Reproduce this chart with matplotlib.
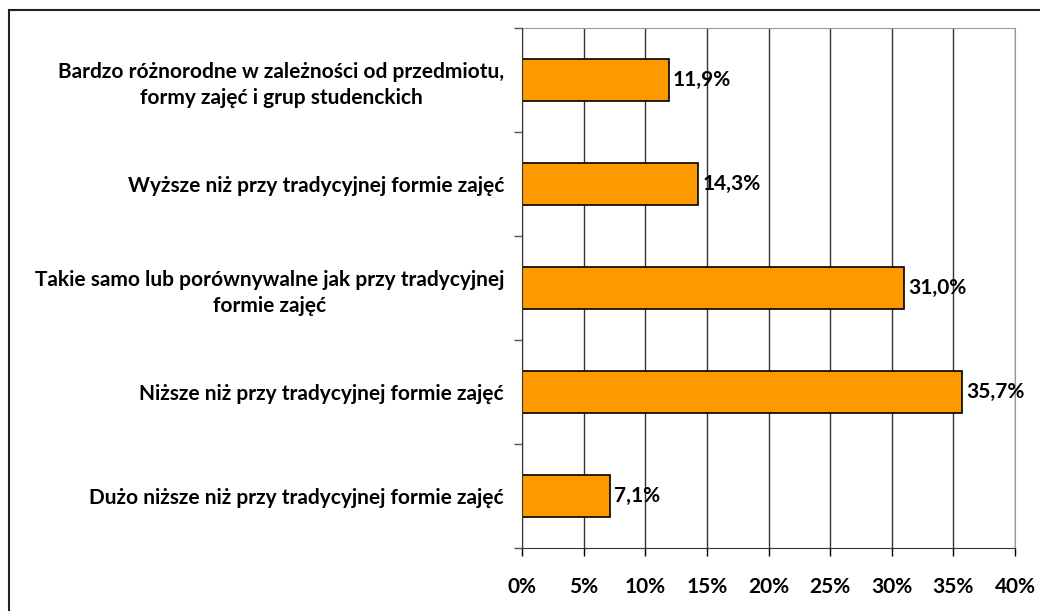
import matplotlib
matplotlib.use("Agg")
import matplotlib.pyplot as plt
from matplotlib.patches import Rectangle
from matplotlib.ticker import MultipleLocator, PercentFormatter, FixedLocator
import numpy as np

categories = [
    "Dużo niższe niż przy tradycyjnej formie zajęć",
    "Niższe niż przy tradycyjnej formie zajęć",
    "Takie samo lub porównywalne jak przy tradycyjnej\nformie zajęć",
    "Wyższe niż przy tradycyjnej formie zajęć",
    "Bardzo różnorodne w zależności od przedmiotu,\nformy zajęć i grup studenckich",
]
values = [7.1, 35.7, 31.0, 14.3, 11.9]
value_labels = ["7,1%", "35,7%", "31,0%", "14,3%", "11,9%"]

plt.rcParams['font.family'] = ['Lato', 'DejaVu Sans']
plt.rcParams['font.weight'] = 'bold'

fig = plt.figure(figsize=(10.4, 6.11), dpi=100)
ax = fig.add_axes([522 / 1040, 1 - 548 / 611, (1015 - 522) / 1040, (548 - 28) / 611])

y = np.arange(len(categories))
ax.barh(y, values, height=0.4, color='#FF9900', edgecolor='black', linewidth=1.2, zorder=3)

for yi, v, lab in zip(y, values, value_labels):
    ax.text(v + 0.35, yi, lab, va='center', ha='left', fontsize=15,
            fontweight='bold', zorder=4)

ax.set_xlim(0, 40)
ax.set_ylim(-0.5, len(categories) - 0.5)
ax.xaxis.set_major_locator(MultipleLocator(5))
ax.xaxis.set_major_formatter(PercentFormatter(decimals=0))
ax.grid(axis='x', color='#333333', linewidth=1, zorder=0)

# category labels between boundary ticks
ax.yaxis.set_major_locator(FixedLocator(np.arange(-0.5, len(categories), 1.0)))
ax.yaxis.set_major_formatter(plt.NullFormatter())
ax.yaxis.set_minor_locator(FixedLocator(y))
ax.set_yticklabels(categories, minor=True, fontsize=15, fontweight='bold',
                   linespacing=1.35)
ax.tick_params(axis='y', which='minor', length=0, pad=13)
ax.tick_params(axis='y', which='major', length=6, width=1, color='#555555')
ax.tick_params(axis='x', length=6, width=1, pad=15, labelsize=15)
for lab in ax.get_yticklabels(minor=True):
    lab.set_multialignment('center')
for lab in ax.get_xticklabels():
    lab.set_fontweight('bold')

ax.spines['left'].set_color('#333333')
ax.spines['bottom'].set_color('#333333')
ax.spines['top'].set_color('#999999')
ax.spines['right'].set_color('#999999')
ax.spines['left'].set_zorder(5)
ax.spines['bottom'].set_zorder(5)

# outer chart frame
fig.patches.append(Rectangle((9 / 1040, -0.1), 1.2, 0.1 + (611 - 10) / 611,
                             transform=fig.transFigure, fill=False,
                             edgecolor='#222222', linewidth=1.5))

fig.savefig("out.png", dpi=100)
